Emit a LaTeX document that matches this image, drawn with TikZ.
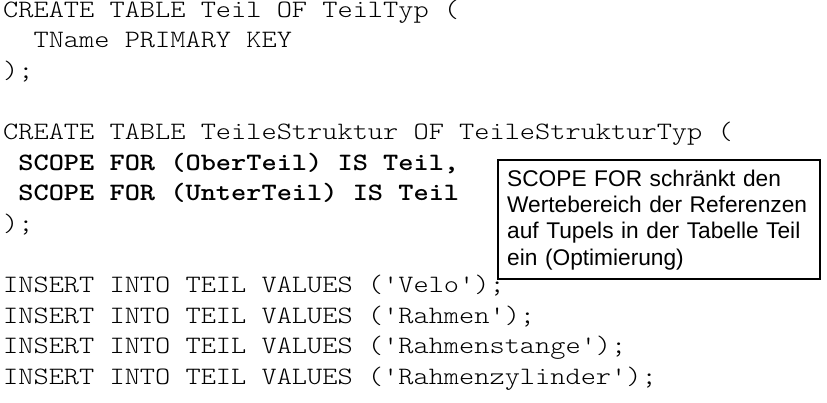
\documentclass[tikz,border=0pt]{standalone}
\usepackage{fontspec}
\setmainfont{Liberation Sans}
\newcommand{\codefont}{\ttfamily\fontseries{l}\fontsize{25bp}{30.6bp}\selectfont}
\newcommand{\codefontb}{\ttfamily\bfseries\fontsize{25bp}{30.6bp}\selectfont}
\newcommand{\cw}[1]{\scalebox{1.158}[1]{#1}}
\begin{document}
\begin{tikzpicture}[x=1bp,y=-1bp,
  code/.style={anchor=base west,inner sep=0pt,font=\codefont},
  codeb/.style={code,font=\codefontb},
  notebox/.style={draw=black,line width=1.5bp,inner sep=0pt,anchor=north west,minimum width=322bp,minimum height=119bp},
  notetext/.style={anchor=base west,inner sep=0pt,text width=310bp,align=left,font=\fontsize{22.7bp}{26.1bp}\selectfont}]
\useasboundingbox (0,0) rectangle (827,402);
\fill[white] (0,0) rectangle (827,402);
\node[code] (l1) at (3,17.3) {\cw{CREATE TABLE Teil OF TeilTyp (}};
\node[code] (l2) at (3,47.9) {\cw{\hphantom{xx}TName PRIMARY KEY}};
\node[code] (l3) at (3,78.5) {\cw{);}};
\node[code] (l5) at (3,139.7) {\cw{CREATE TABLE TeileStruktur OF TeileStrukturTyp (}};
\node[codeb] (l6) at (3,170.3) {\cw{\hphantom{x}SCOPE FOR (OberTeil) IS Teil,}};
\node[codeb] (l7) at (3,200.9) {\cw{\hphantom{x}SCOPE FOR (UnterTeil) IS Teil}};
\node[code] (l8) at (3,231.5) {\cw{);}};
\node[code] (l10) at (3,292.7) {\cw{INSERT INTO TEIL VALUES (\textquotesingle Velo\textquotesingle);}};
\node[code] (l11) at (3,323.3) {\cw{INSERT INTO TEIL VALUES (\textquotesingle Rahmen\textquotesingle);}};
\node[code] (l12) at (3,353.9) {\cw{INSERT INTO TEIL VALUES (\textquotesingle Rahmenstange\textquotesingle);}};
\node[code] (l13) at (3,384.5) {\cw{INSERT INTO TEIL VALUES (\textquotesingle Rahmenzylinder\textquotesingle);}};
\node[notebox,fill=white] (note) at (497,159) {};
\node[notetext] (notetxt) at (507,186.7) {SCOPE FOR schränkt den\\Wertebereich der Referenzen\\auf Tupels in der Tabelle Teil\\ein (Optimierung)};
\end{tikzpicture}
\end{document}
